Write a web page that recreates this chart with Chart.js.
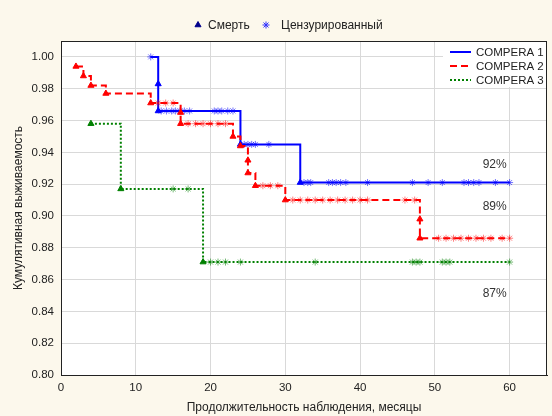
<!DOCTYPE html>
<html>
<head>
<meta charset="utf-8">
<script src="https://cdn.jsdelivr.net/npm/chart.js@4/dist/chart.umd.min.js"></script>
<style>
  html, body { margin: 0; padding: 0; background: #fcf8ec; }
</style>
</head>
<body>
<canvas id="kmChart" width="552" height="416"></canvas>
<script>
// ---- Kaplan-Meier step points: month / cumulative survival ----
const seriesNames = ["COMPERA 1", "COMPERA 2", "COMPERA 3"];

const c1Time = [12, 13, 13, 24, 32, 60];
const c1Surv = [1.000, 0.983, 0.966, 0.945, 0.921, 0.921];

const c2Time = [2, 3, 4, 6, 12, 16, 16, 23, 24, 25, 25, 26, 30, 48, 48, 60];
const c2Surv = [0.994, 0.988, 0.982, 0.977, 0.971, 0.965, 0.958, 0.950, 0.944, 0.935, 0.927, 0.919, 0.910, 0.898, 0.886, 0.886];

const c3Time = [4, 8, 19, 60];
const c3Surv = [0.958, 0.917, 0.871, 0.871];

// censored patients (months)
const c1Cens = [12, 13.4, 14.1, 14.8, 15.3, 15.9, 16.5, 17.2, 20.5, 21, 21.5, 22.3, 23,
  24.5, 25, 25.5, 26, 27.8, 32.5, 33, 33.4, 35.8, 36.3, 36.8, 37.4, 38.1, 41, 47, 49.1, 51,
  53.9, 54.5, 55.2, 55.9, 58.1, 60];
const c2Cens = [13, 14, 15, 17, 18, 19, 20, 21, 22, 27, 28, 29,
  31, 32, 33, 34, 35, 36, 37, 38, 39, 40, 41, 46, 47.3,
  50.5, 51.5, 52.5, 53.5, 54.5, 55.5, 56.5, 57.5, 59, 60];
const c3Cens = [15, 17, 20, 21, 22, 24, 34, 47, 47.5, 48, 51, 51.5, 52, 60];

// percentages written at the right end of the curves
const endLabels = ["92%", "89%", "87%"];
const endLabelY = [0.932, 0.906, 0.851];
const endLabelX = 58;

const colors = ["#0000ff", "#ff0000", "#008000"];
const censColors = ["rgba(0,0,255,0.55)", "rgba(255,0,0,0.5)", "rgba(0,128,0,0.55)"];
const dashes = [[], [7, 4], [2, 2]];

const FONT = "'Liberation Sans', Arial, sans-serif";

function survAt(times, surv, t) {
  let s = 1;
  for (let i = 0; i < times.length; i++) {
    if (times[i] <= t) s = surv[i];
  }
  return s;
}

// a triangle goes where the curve drops
function eventPoints(times, surv) {
  const pts = [];
  for (let i = 0; i < times.length; i++) {
    const prev = i ? surv[i - 1] : 1;
    if (surv[i] < prev) pts.push({ x: times[i], y: surv[i] });
  }
  return pts;
}

const allTimes = [c1Time, c2Time, c3Time];
const allSurv = [c1Surv, c2Surv, c3Surv];
const allCens = [c1Cens, c2Cens, c3Cens];

const datasets = [];
for (let k = 0; k < 3; k++) {
  datasets.push({
    label: seriesNames[k],
    type: "line",
    data: allTimes[k].map((t, i) => ({ x: t, y: allSurv[k][i] })),
    borderColor: colors[k],
    borderWidth: 2,
    borderDash: dashes[k],
    stepped: true,
    pointRadius: 0,
    fill: false,
    order: 3 - k,
  });
  datasets.push({
    label: seriesNames[k] + " events",
    type: "scatter",
    data: eventPoints(allTimes[k], allSurv[k]),
    pointStyle: "triangle",
    pointRadius: 3.5,
    backgroundColor: colors[k],
    borderColor: colors[k],
    borderWidth: 1,
    order: 3 - k,
  });
  datasets.push({
    label: seriesNames[k] + " censored",
    type: "scatter",
    data: allCens[k].map((t) => ({ x: t, y: survAt(allTimes[k], allSurv[k], t) })),
    pointStyle: "star",
    pointRadius: 3.5,
    borderColor: censColors[k],
    backgroundColor: censColors[k],
    borderWidth: 1,
    order: 3 - k,
  });
}

// background, frame, end percentages and both legends
const decor = {
  id: "decor",
  beforeDraw(chart) {
    const { ctx, chartArea: a } = chart;
    ctx.save();
    ctx.fillStyle = "#fcf8ec";
    ctx.fillRect(0, 0, chart.width, chart.height);
    ctx.fillStyle = "#ffffff";
    ctx.fillRect(a.left, a.top, a.right - a.left, a.bottom - a.top);
    ctx.restore();
  },
  afterDraw(chart) {
    const { ctx, chartArea: a, scales } = chart;
    ctx.save();
    ctx.strokeStyle = "#222";
    ctx.lineWidth = 1;
    ctx.strokeRect(a.left + 0.5, a.top + 0.5, a.right - a.left - 1, a.bottom - a.top);

    ctx.font = "12px " + FONT;
    ctx.fillStyle = "#333";
    ctx.textAlign = "center";
    ctx.textBaseline = "middle";
    for (let k = 0; k < 3; k++) {
      ctx.fillText(endLabels[k], scales.x.getPixelForValue(endLabelX), scales.y.getPixelForValue(endLabelY[k]));
    }

    // series legend, top right corner of the plot
    ctx.fillStyle = "#ffffff";
    ctx.fillRect(443, a.top + 1, a.right - 444, 45);
    ctx.textAlign = "left";
    ctx.font = "11.5px " + FONT;
    for (let k = 0; k < 3; k++) {
      const y = 52 + k * 14;
      ctx.beginPath();
      ctx.setLineDash(dashes[k]);
      ctx.strokeStyle = colors[k];
      ctx.lineWidth = 2;
      ctx.moveTo(450, y);
      ctx.lineTo(471, y);
      ctx.stroke();
      ctx.setLineDash([]);
      ctx.fillStyle = "#222";
      ctx.fillText(seriesNames[k], 476, y + 1);
    }

    // marker legend above the plot
    const ly = 25;
    ctx.font = "12px " + FONT;
    ctx.fillStyle = "#00008b";
    ctx.strokeStyle = "#00008b";
    ctx.lineWidth = 1;
    Chart.helpers.drawPoint(ctx, { pointStyle: "triangle", radius: 3.5, borderWidth: 1 }, 198, ly);
    ctx.fillStyle = "#222";
    ctx.fillText("Смерть", 208, ly + 1);
    ctx.strokeStyle = "#3030ff";
    Chart.helpers.drawPoint(ctx, { pointStyle: "star", radius: 3.5, borderWidth: 1 }, 266, ly);
    ctx.fillText("Цензурированный", 281, ly + 1);
    ctx.restore();
  },
};

new Chart(document.getElementById("kmChart"), {
  type: "scatter",
  data: { datasets: datasets },
  options: {
    responsive: false,
    animation: false,
    devicePixelRatio: 1,
    layout: { padding: { top: 41, right: 3, left: 0, bottom: 0 } },
    plugins: { legend: { display: false }, tooltip: { enabled: false } },
    scales: {
      x: {
        type: "linear",
        min: 0,
        max: 65,
        afterFit(scale) { scale.height = 41; },
        ticks: {
          stepSize: 10,
          includeBounds: false,
          padding: 6,
          color: "#222",
          font: { family: FONT, size: 11.5 },
        },
        grid: { color: "#d9d9d9", drawTicks: false },
        border: { display: true, color: "#222" },
        title: {
          display: true,
          text: "Продолжительность наблюдения, месяцы",
          color: "#222",
          font: { family: FONT, size: 12 },
          padding: { top: 0, bottom: 1 },
        },
      },
      y: {
        type: "linear",
        min: 0.8,
        max: 1.01,
        afterFit(scale) { scale.width = 61; },
        ticks: {
          stepSize: 0.02,
          includeBounds: false,
          padding: 7,
          color: "#222",
          font: { family: FONT, size: 11.5 },
          callback: (v) => v.toFixed(2),
        },
        grid: { color: "#d9d9d9", drawTicks: false },
        border: { display: true, color: "#222" },
        title: {
          display: true,
          text: "Кумулятивная выживаемость",
          color: "#222",
          font: { family: FONT, size: 12 },
          padding: { top: 11, bottom: 0 },
        },
      },
    },
  },
  plugins: [decor],
});
</script>
</body>
</html>
